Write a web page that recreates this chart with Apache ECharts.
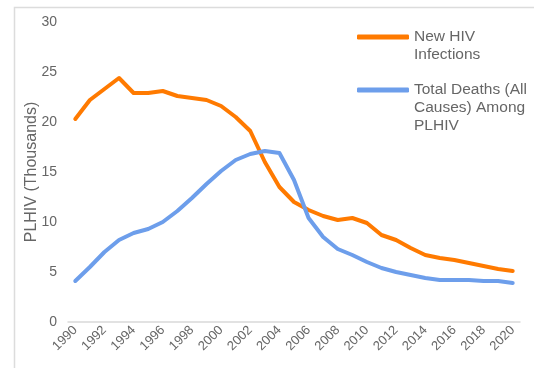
<!DOCTYPE html>
<html>
<head>
<meta charset="utf-8">
<script src="https://cdn.jsdelivr.net/npm/echarts@6/dist/echarts.min.js"></script>
<style>
  html, body { margin: 0; padding: 0; background: #fff; }
  #chart { width: 534px; height: 368px; }
</style>
</head>
<body>
<div id="chart"></div>
<script>
// Years on the horizontal axis
const years = [];
for (let y = 1990; y <= 2020; y++) years.push(String(y));

// New HIV infections per year (thousands)
const newInfections = [20.3, 22.2, 23.3, 24.4, 22.9, 22.9, 23.1, 22.6, 22.4, 22.2,
  21.6, 20.5, 19.1, 16.0, 13.5, 12.0, 11.2, 10.6, 10.2, 10.4,
  9.9, 8.7, 8.2, 7.4, 6.7, 6.4, 6.2, 5.9, 5.6, 5.3, 5.1];

// Total deaths (all causes) among people living with HIV (thousands)
const totalDeaths = [4.1, 5.5, 7.0, 8.2, 8.9, 9.3, 10.0, 11.1, 12.4, 13.8,
  15.1, 16.2, 16.8, 17.1, 16.9, 14.2, 10.4, 8.5, 7.3, 6.7,
  6.0, 5.4, 5.0, 4.7, 4.4, 4.2, 4.2, 4.2, 4.1, 4.1, 3.9];

const seriesNames = ['New HIV Infections', 'Total Deaths (All Causes) Among PLHIV'];
// Wrapped legend text, one entry per line
const legendLines = {
  'New HIV Infections': ['New HIV', 'Infections'],
  'Total Deaths (All Causes) Among PLHIV': ['Total Deaths (All', 'Causes) Among', 'PLHIV']
};

const FONT = 'Liberation Sans, Arial, sans-serif';
const TEXT = '#666666';
const ORANGE = '#FF7A00';
const BLUE = '#6D9EEB';

const chart = echarts.init(document.getElementById('chart'), null, { renderer: 'canvas' });

// The legend icon is centred on the text block; leading blank lines
// put that centre on the first text line.
function wrapForLegend(name) {
  const lines = legendLines[name];
  const blanks = new Array(lines.length - 1).fill(' ');
  return blanks.concat(lines).join('\n');
}

function legendFor(name, top) {
  return {
    data: [name],
    left: 357,
    top: top,
    padding: 0,
    orient: 'vertical',
    icon: 'roundRect',
    itemWidth: 52,
    itemHeight: 5,
    formatter: wrapForLegend,
    textStyle: {
      fontFamily: FONT,
      fontSize: 15.5,
      lineHeight: 18,
      color: TEXT
    }
  };
}

chart.setOption({
  animation: false,
  graphic: [{
    type: 'rect',
    left: 12, top: 5,
    shape: { width: 600, height: 420 },
    style: { fill: 'none', stroke: '#dcdcdc', lineWidth: 1.5 },
    silent: true
  }],
  grid: { left: 68, right: 14, top: 22, bottom: 46 },
  legend: [
    legendFor(seriesNames[0], 10),
    legendFor(seriesNames[1], 45)
  ],
  xAxis: {
    type: 'category',
    data: years,
    boundaryGap: true,
    axisLine: { lineStyle: { color: '#d9d9d9', width: 1.5 } },
    axisTick: { show: false },
    axisLabel: {
      interval: 1,
      rotate: 45,
      margin: 6,
      fontFamily: FONT,
      fontSize: 13,
      color: TEXT
    },
    splitLine: { show: false }
  },
  yAxis: {
    type: 'value',
    min: 0, max: 30, interval: 5,
    name: 'PLHIV (Thousands)',
    nameLocation: 'middle',
    nameGap: 28,
    nameMoveOverlap: false,
    nameTextStyle: { fontFamily: FONT, fontSize: 16, color: TEXT },
    axisLine: { show: false },
    axisTick: { show: false },
    splitLine: { show: false },
    axisLabel: { fontFamily: FONT, fontSize: 14, color: TEXT, margin: 11 }
  },
  series: [
    {
      name: seriesNames[0],
      type: 'line',
      data: newInfections,
      symbol: 'none',
      lineStyle: { color: ORANGE, width: 4, join: 'round', cap: 'round' },
      itemStyle: { color: ORANGE }
    },
    {
      name: seriesNames[1],
      type: 'line',
      data: totalDeaths,
      symbol: 'none',
      lineStyle: { color: BLUE, width: 4, join: 'round', cap: 'round' },
      itemStyle: { color: BLUE }
    }
  ]
});
</script>
</body>
</html>
